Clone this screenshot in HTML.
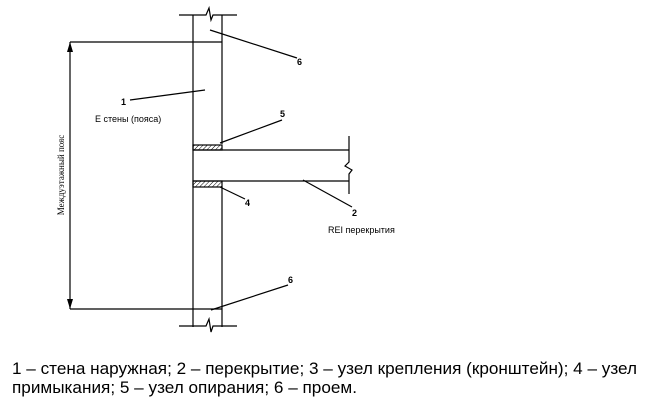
<!DOCTYPE html>
<html><head><meta charset="utf-8"><style>
html,body{margin:0;padding:0;background:#fff;}
svg{display:block;}
</style></head><body>
<svg width="646" height="414" viewBox="0 0 646 414" xmlns="http://www.w3.org/2000/svg">
<defs>
<pattern id="h" width="3" height="3" patternUnits="userSpaceOnUse" patternTransform="rotate(45)">
<line x1="0" y1="0" x2="0" y2="3" stroke="#000" stroke-width="1"/>
</pattern>
</defs>
<g stroke="#000" stroke-width="1.2" fill="none">
<line x1="193" y1="15" x2="193" y2="327"/>
<line x1="222" y1="15" x2="222" y2="144"/>
<line x1="222" y1="187" x2="222" y2="327"/>
<polyline points="179,15 206,15 209,8 211,20 213,15 237,15"/>
<polyline points="179,326 206,326 209,319 211,332 213,326 237,326"/>
<line x1="70" y1="42" x2="222" y2="42"/>
<line x1="70" y1="309" x2="222" y2="309"/>
<line x1="193" y1="150" x2="349" y2="150"/>
<line x1="193" y1="181" x2="349" y2="181"/>
<polyline points="349,136 349,162 345,166 352,170 349,174 349,194"/>
<rect x="193" y="145" width="29" height="5" fill="url(#h)"/>
<rect x="193" y="181" width="29" height="6" fill="url(#h)"/>
<line x1="70" y1="42" x2="70" y2="309"/>
<line x1="210" y1="30" x2="297" y2="58"/>
<line x1="130" y1="100" x2="205" y2="90"/>
<line x1="220" y1="143" x2="282" y2="120"/>
<line x1="220" y1="187" x2="245" y2="199"/>
<line x1="303" y1="180" x2="352" y2="207"/>
<line x1="211" y1="310" x2="288" y2="285"/>
</g>
<polygon points="70,42 67,52 73,52" fill="#000"/>
<polygon points="70,309 67,299 73,299" fill="#000"/>
<g font-family="Liberation Sans, sans-serif" font-size="9" fill="#000">
<text x="297" y="65" font-weight="bold">6</text>
<text x="121" y="105" font-weight="bold">1</text>
<text x="95" y="122">Е стены (пояса)</text>
<text x="280" y="117" font-weight="bold">5</text>
<text x="245" y="206" font-weight="bold">4</text>
<text x="352" y="216" font-weight="bold">2</text>
<text x="328" y="233">REI перекрытия</text>
<text x="288" y="283" font-weight="bold">6</text>
</g>
<text transform="translate(64,175) rotate(-90)" text-anchor="middle" font-family="Liberation Serif, serif" font-size="9" fill="#000">Междуэтажный пояс</text>
<g font-family="Liberation Sans Narrow, Liberation Sans, sans-serif" font-size="17" fill="#000">
<text x="12" y="374" textLength="625" lengthAdjust="spacingAndGlyphs">1 – стена наружная; 2 – перекрытие; 3 – узел крепления (кронштейн); 4 – узел</text>
<text x="12" y="393" textLength="345" lengthAdjust="spacingAndGlyphs">примыкания; 5 – узел опирания; 6 – проем.</text>
</g>
</svg>
</body></html>
